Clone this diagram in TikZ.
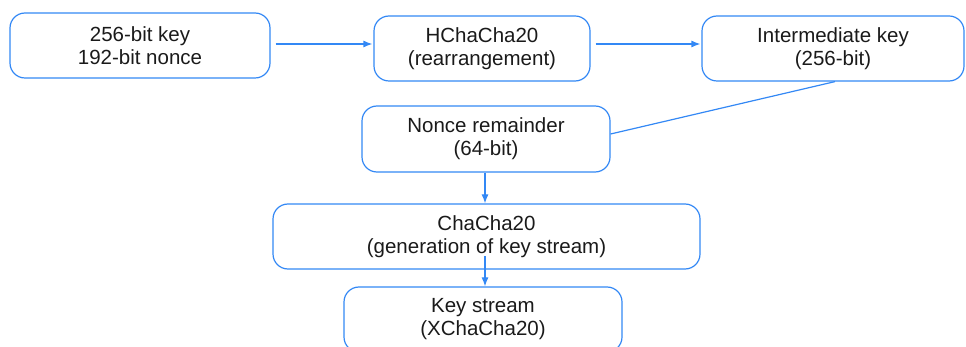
\documentclass[tikz,border=0pt]{standalone}
\usepackage{fontspec}
\setmainfont{Liberation Sans}
\usetikzlibrary{arrows.meta}
\definecolor{flowblue}{HTML}{3388F5}
\definecolor{flowtext}{HTML}{1A1A1A}
\tikzset{
  stagebox/.style={draw=flowblue, line width=1.2pt, rounded corners=15pt,
    minimum height=65pt, align=center, inner sep=0pt, text=flowtext,
    font=\fontsize{20.5}{23}\selectfont},
  flowarrow/.style={draw=flowblue, line width=1.2pt,
    -{Latex[length=9pt,width=7pt]}},
  flowline/.style={draw=flowblue, line width=1.2pt},
}
\begin{document}
\begin{tikzpicture}[x=1pt, y=-1pt]
  \useasboundingbox (0,0) rectangle (966,347);
  \node[stagebox, minimum width=260pt] (keyin) at (140,45.5) {256-bit key\\192-bit nonce};
  \node[stagebox, minimum width=216pt] (hchacha) at (482,48.5) {HChaCha20\\(rearrangement)};
  \node[stagebox, minimum width=262pt] (interkey) at (833,48.5) {Intermediate key\\(256-bit)};
  \node[stagebox, minimum width=248pt, minimum height=66pt] (nonce) at (486,139) {Nonce remainder\\(64-bit)};
  \node[stagebox, minimum width=427pt] (chacha) at (486.5,236.5) {ChaCha20\\(generation of key stream)};
  \node[stagebox, minimum width=278pt] (stream) at (483,319.5) {Key stream\\(XChaCha20)};

  \draw[flowarrow, shorten <=5pt, shorten >=1pt] (keyin.east |- 0,44) -- (hchacha.west |- 0,44);
  \draw[flowarrow, shorten <=5pt, shorten >=1pt] (hchacha.east |- 0,44) -- (interkey.west |- 0,44);
  \draw[flowline] ([xshift=2pt]interkey.south) -- ([yshift=5pt]nonce.east);
  \draw[flowarrow] (nonce.south -| 485,0) -- (chacha.north -| 485,0);
  \coordinate (chachamid) at (485,256);
  \draw[flowarrow] (chachamid) -- (stream.north -| 485,0);
\end{tikzpicture}
\end{document}
